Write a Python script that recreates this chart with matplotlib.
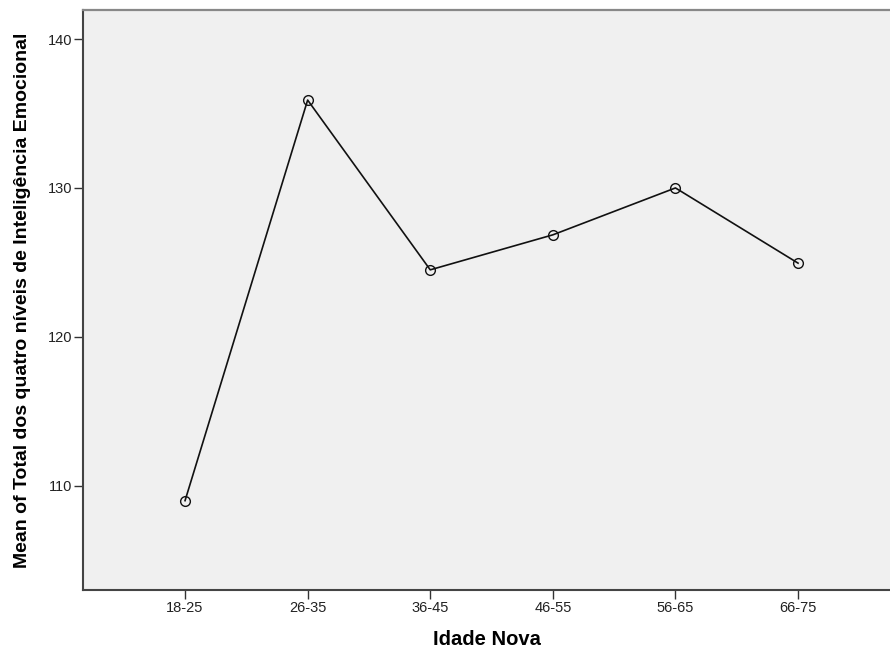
import matplotlib
matplotlib.use('Agg')
import matplotlib.pyplot as plt

age_groups = ['18-25', '26-35', '36-45', '46-55', '56-65', '66-75']
mean_ie = [109.0, 135.9, 124.5, 126.85, 130.0, 124.95]
y_ticks = [110, 120, 130, 140]

plt.rcParams['font.family'] = ['Liberation Sans', 'DejaVu Sans']

fig = plt.figure(figsize=(8.9, 6.48), dpi=100)
ax = fig.add_axes([0.0933, 0.0895, 0.9067, 0.8951])
ax.set_facecolor('#f0f0f0')

x = list(range(len(age_groups)))
ax.plot(x, mean_ie, color='#111111', lw=1.2, marker='o', markersize=7,
        markerfacecolor='none', markeredgecolor='#111111', markeredgewidth=1.0)

ax.set_xlim(-0.832, 5.75)
ax.set_ylim(103.0, 141.95)
ax.set_xticks(x)
ax.set_xticklabels(age_groups, fontsize=10.5, color='#222222')
ax.set_yticks(y_ticks)
ax.set_yticklabels([str(t) for t in y_ticks], fontsize=10.5, color='#222222')
ax.tick_params(length=6.5, width=1, color='#333333', pad=1.5)

for side in ['left', 'bottom']:
    ax.spines[side].set_color('#444444')
    ax.spines[side].set_linewidth(1.5)
ax.spines['top'].set_color('#888888')
ax.spines['top'].set_linewidth(1.6)
ax.spines['right'].set_visible(False)

ax.set_xlabel('Idade Nova', fontsize=14.5, fontweight='bold', labelpad=11)
ax.set_ylabel('Mean of Total dos quatro níveis de Inteligência Emocional',
              fontsize=14, fontweight='bold', labelpad=12)

plt.savefig('out.png', dpi=100)
plt.close()
